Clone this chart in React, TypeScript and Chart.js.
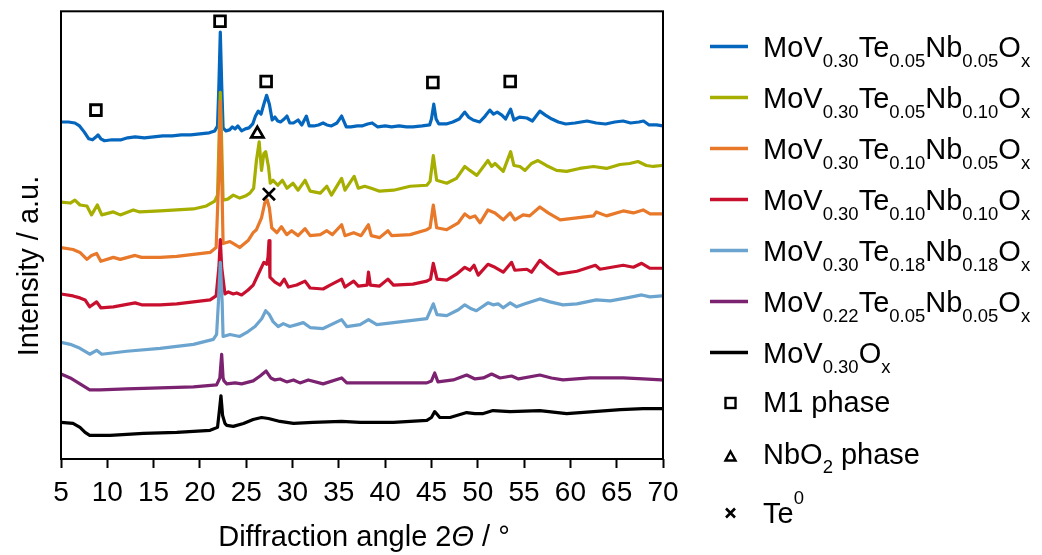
import { useEffect, useRef } from "react";
import { Chart, registerables } from "chart.js";

Chart.register(...registerables);

const FONT = '"Liberation Sans", Arial, Helvetica, sans-serif';

// XRD patterns, pairs of [2θ in °, intensity in a.u. with the stacking offset already applied]
const mvtn_30_05_05: [number, number][] = [
  [5, 341], [5.8, 341], [6.5, 340], [7.0, 337], [7.5, 331], [8.0, 324], [8.4, 323], [8.8, 326], [9.0, 328],
  [9.3, 324], [9.7, 322], [10.5, 323], [11.5, 323], [12.2, 325], [13.0, 326], [14, 325], [15, 326], [16, 327],
  [17, 327], [18, 328], [19, 328], [20, 329], [21, 330], [21.6, 332], [21.9, 337], [22.05, 379], [22.2, 432],
  [22.35, 379], [22.5, 335], [22.8, 332], [23.2, 333], [23.5, 336], [23.8, 334], [24.1, 337], [24.5, 332],
  [24.9, 334], [25.3, 335], [25.7, 339], [26.0, 347], [26.3, 352], [26.6, 349], [26.9, 359], [27.2, 368],
  [27.5, 359], [27.8, 343], [28.1, 346], [28.4, 342], [28.7, 341], [29.1, 344], [29.4, 347], [29.7, 340],
  [30.1, 340], [30.6, 343], [31.0, 338], [31.5, 347], [31.8, 337], [32.3, 337], [32.8, 338], [33.3, 340],
  [33.7, 338], [34.2, 337], [34.8, 340], [35.3, 347], [35.8, 336], [36.3, 336], [37.0, 337], [37.5, 337],
  [38.1, 339], [38.6, 340], [39.2, 336], [40.0, 337], [40.7, 336], [41.5, 337], [42.3, 336], [43.0, 336],
  [44.0, 337], [44.8, 338], [45.0, 344], [45.25, 359], [45.5, 344], [45.8, 339], [46.6, 339], [47.3, 341],
  [48.0, 344], [48.6, 351], [49.0, 346], [49.5, 343], [50.2, 341], [50.8, 347], [51.3, 353], [51.7, 349],
  [52.1, 351], [52.6, 348], [53.0, 344], [53.55, 354], [53.9, 343], [54.5, 346], [55.3, 345], [55.9, 342],
  [56.7, 352], [57.3, 348], [58.0, 344], [58.7, 341], [59.5, 339], [60.5, 340], [61.8, 342], [62.8, 340],
  [63.8, 339], [64.8, 341], [65.7, 342], [66.5, 340], [67.4, 341], [67.9, 342], [68.5, 338], [69.3, 338],
  [70, 337],
];

const mvtn_30_05_10: [number, number][] = [
  [5, 260], [6.0, 259], [6.5, 262], [7.05, 257], [7.8, 256], [8.3, 247], [8.92, 257], [9.4, 247], [10.65, 250],
  [11.4, 247], [12.8, 252], [13.5, 250], [15.7, 251], [17.5, 252], [19.3, 253], [20.7, 256], [21.6, 261],
  [21.9, 267], [22.05, 319], [22.2, 371], [22.35, 319], [22.5, 262], [23.0, 263], [23.6, 267], [24.3, 264],
  [24.9, 266], [25.4, 269], [25.8, 274], [26.1, 302], [26.4, 321], [26.65, 292], [26.9, 309], [27.1, 311],
  [27.4, 296], [27.6, 279], [27.9, 282], [28.4, 277], [28.9, 282], [29.4, 274], [30.05, 279], [30.6, 272],
  [31.35, 282], [31.9, 271], [33.0, 269], [33.7, 276], [34.2, 267], [35.3, 284], [35.66, 272], [36.65, 286],
  [37.1, 274], [37.8, 276], [38.5, 274], [39.4, 271], [40.9, 272], [42.7, 276], [44.5, 277], [44.85, 281],
  [45.2, 307], [45.56, 282], [46.65, 279], [47.7, 284], [48.6, 296], [49.15, 292], [49.9, 287], [51.1, 302],
  [51.5, 296], [51.86, 299], [52.2, 296], [52.75, 291], [53.55, 311], [53.9, 297], [54.55, 296], [55.1, 292],
  [55.8, 299], [56.5, 302], [57.4, 297], [58.5, 292], [59.6, 291], [61.0, 294], [62.5, 296], [63.9, 294],
  [65.35, 298], [66.4, 299], [67.3, 301], [68.2, 297], [68.95, 296], [69.85, 297], [70, 297],
];

const mvtn_30_10_05: [number, number][] = [
  [5, 214], [6.3, 212], [7.05, 209], [7.8, 202], [8.3, 206], [8.85, 208], [9.3, 200], [10.65, 204], [11.4, 202],
  [13.0, 206], [13.7, 204], [15.7, 204], [17.5, 205], [19.3, 207], [21.1, 209], [21.75, 214], [22.05, 289],
  [22.2, 362], [22.35, 289], [22.5, 218], [23.25, 220], [23.8, 217], [24.3, 214], [25.2, 221], [25.75, 229],
  [26.1, 232], [26.65, 244], [27.0, 259], [27.27, 262], [27.5, 254], [27.75, 234], [28.3, 229], [28.8, 235],
  [29.37, 227], [29.9, 231], [30.6, 226], [31.35, 233], [31.9, 226], [33.0, 227], [33.7, 231], [34.3, 227],
  [35.3, 237], [35.66, 226], [36.6, 229], [37.4, 226], [38.2, 237], [38.5, 226], [39.4, 224], [40.3, 231],
  [40.7, 226], [42.7, 227], [44.5, 232], [44.85, 234], [45.2, 257], [45.56, 234], [46.65, 232], [47.9, 239],
  [48.6, 248], [49.15, 244], [49.7, 246], [50.24, 239], [51.1, 252], [51.86, 249], [52.75, 242], [53.5, 249],
  [54.0, 242], [54.9, 247], [55.6, 246], [56.7, 255], [57.6, 249], [58.9, 242], [60.7, 244], [62.5, 246],
  [62.8, 250], [63.9, 246], [65.7, 251], [66.8, 249], [67.85, 252], [68.6, 248], [69.85, 248], [70, 248],
];

const mvtn_30_10_10: [number, number][] = [
  [5, 167], [6.3, 165], [7.05, 163], [7.6, 161], [8.1, 154], [8.85, 159], [9.3, 153], [10.65, 154], [13.0, 158],
  [13.7, 156], [15.7, 156], [17.5, 157], [19.3, 159], [21.1, 161], [21.75, 165], [22.05, 194], [22.2, 222],
  [22.35, 194], [22.7, 167], [23.07, 169], [23.6, 167], [23.97, 168], [24.5, 166], [25.2, 171], [25.75, 176],
  [26.4, 189], [26.9, 199], [27.2, 197], [27.35, 204], [27.46, 221], [27.56, 184], [28.1, 179], [28.65, 176],
  [29.1, 182], [29.55, 174], [30.45, 176], [31.35, 180], [31.9, 173], [33.3, 172], [34.05, 176], [35.3, 182],
  [35.66, 174], [36.6, 180], [37.1, 175], [38.05, 176], [38.2, 189], [38.4, 176], [39.4, 175], [40.3, 182],
  [40.9, 176], [43.0, 177], [44.5, 180], [44.9, 182], [45.2, 198], [45.6, 182], [46.65, 181], [47.7, 187],
  [48.6, 194], [49.15, 191], [49.6, 196], [50.05, 186], [51.1, 197], [51.86, 194], [52.75, 189], [53.65, 199],
  [54.0, 191], [55.3, 192], [55.8, 189], [56.7, 201], [57.6, 194], [58.7, 187], [60.7, 190], [62.7, 196],
  [63.2, 192], [65.7, 196], [66.8, 194], [67.7, 198], [68.6, 193], [69.85, 193], [70, 193],
];

const mvtn_30_18_18: [number, number][] = [
  [5, 118], [6.0, 116], [7.05, 112], [8.1, 106], [8.85, 110], [9.4, 106], [12.1, 109], [15.7, 112], [19.3, 116],
  [21.45, 121], [21.8, 126], [22.0, 159], [22.2, 199], [22.4, 159], [22.5, 124], [23.25, 126], [24.3, 124],
  [25.2, 129], [25.95, 134], [26.67, 142], [27.1, 150], [27.5, 146], [27.9, 139], [28.45, 134], [29.0, 137],
  [29.7, 134], [30.45, 136], [31.16, 138], [31.9, 133], [33.3, 132], [35.3, 141], [35.85, 134], [37.3, 136],
  [38.2, 141], [39.1, 136], [40.9, 138], [42.7, 140], [44.5, 142], [45.2, 157], [45.6, 146], [46.65, 145],
  [47.9, 151], [48.6, 156], [49.3, 152], [49.85, 150], [51.1, 158], [51.65, 156], [52.2, 157], [52.75, 153],
  [53.5, 158], [54.2, 154], [55.1, 157], [56.7, 162], [57.8, 159], [59.2, 156], [60.7, 157], [62.8, 161],
  [64.3, 160], [66.1, 163], [67.7, 166], [68.6, 164], [69.85, 165], [70, 165],
];

const mvtn_22_05_05: [number, number][] = [
  [5, 86], [6.0, 82], [7.05, 76], [8.1, 70], [9.2, 70], [12.1, 71], [15.7, 72], [19.3, 73], [21.8, 75],
  [22.15, 82], [22.35, 106], [22.5, 82], [22.6, 79], [22.9, 76], [23.8, 77], [24.5, 76], [25.75, 79],
  [26.5, 84], [27.15, 89], [27.65, 82], [28.1, 80], [28.65, 81], [29.37, 78], [30.1, 80], [30.8, 77],
  [31.7, 80], [33.3, 76], [35.3, 82], [35.85, 77], [37.3, 77], [40.9, 77], [44.5, 77], [45.0, 79],
  [45.35, 87], [45.7, 78], [47.35, 80], [48.8, 85], [49.7, 81], [50.6, 82], [51.5, 86], [52.4, 82],
  [53.65, 84], [54.4, 81], [56.7, 85], [57.95, 82], [59.2, 80], [62.1, 82], [65.7, 82], [67.85, 81],
  [69.85, 80], [70, 80],
];

const mv_30: [number, number][] = [
  [5, 37], [6.3, 36], [7.05, 32], [7.6, 27], [8.1, 24], [10.3, 24], [13.9, 26], [17.5, 27], [21.1, 29],
  [21.9, 32], [22.1, 49], [22.27, 64], [22.45, 44], [22.7, 36], [22.9, 34], [23.6, 33], [24.7, 36],
  [25.75, 40], [26.65, 42], [27.4, 41], [28.65, 38], [30.1, 36], [32.2, 37], [35.3, 38], [37.3, 37],
  [40.9, 37], [44.5, 39], [45.0, 42], [45.35, 48], [45.9, 42], [47.0, 42], [48.8, 47], [49.7, 46],
  [50.6, 46], [51.65, 49], [53.5, 48], [56.7, 49], [59.6, 46], [62.5, 48], [65.4, 50], [67.85, 51],
  [69.85, 51], [70, 51],
];

const patterns = [mvtn_30_05_05, mvtn_30_05_10, mvtn_30_10_05, mvtn_30_10_10, mvtn_30_18_18, mvtn_22_05_05, mv_30];

// _{..} is a subscript, ^{..} a superscript
const sampleNames = [
  "MoV_{0.30}Te_{0.05}Nb_{0.05}O_{x}",
  "MoV_{0.30}Te_{0.05}Nb_{0.10}O_{x}",
  "MoV_{0.30}Te_{0.10}Nb_{0.05}O_{x}",
  "MoV_{0.30}Te_{0.10}Nb_{0.10}O_{x}",
  "MoV_{0.30}Te_{0.18}Nb_{0.18}O_{x}",
  "MoV_{0.22}Te_{0.05}Nb_{0.05}O_{x}",
  "MoV_{0.30}O_{x}",
];

const sampleColors = ["#0566BE", "#A6AE00", "#E8782A", "#C8102E", "#6BA4CE", "#7B2270", "#000000"];

// reflections marked above the patterns: [2θ, height]
const m1Marks: [number, number][] = [[8.77, 353], [22.17, 443], [27.15, 382], [45.15, 381], [53.5, 382]];
const nbo2Marks: [number, number][] = [[26.2, 329]];
const te0Marks: [number, number][] = [[27.45, 268]];

const phaseNames = ["M1 phase", "NbO_{2} phase", "Te^{0}"];

const xTicks = [5, 10, 15, 20, 25, 30, 35, 40, 45, 50, 55, 60, 65, 70];

type Seg = { t: string; m: "n" | "sub" | "sup" };

function parseRich(s: string): Seg[] {
  const out: Seg[] = [];
  const re = /([_^])\{([^}]*)\}/g;
  let last = 0;
  let m: RegExpExecArray | null;
  while ((m = re.exec(s))) {
    if (m.index > last) out.push({ t: s.slice(last, m.index), m: "n" });
    out.push({ t: m[2], m: m[1] === "_" ? "sub" : "sup" });
    last = re.lastIndex;
  }
  if (last < s.length) out.push({ t: s.slice(last), m: "n" });
  return out;
}

function plainText(s: string) {
  return parseRich(s).map((p) => p.t).join("");
}

function drawRich(ctx: CanvasRenderingContext2D, s: string, x: number, baseline: number, size: number, small: number, subDrop: number) {
  let cx = x;
  for (const seg of parseRich(s)) {
    ctx.font = `${seg.m === "n" ? size : small}px ${FONT}`;
    const y = seg.m === "sub" ? baseline + subDrop : seg.m === "sup" ? baseline - 19 : baseline;
    ctx.fillText(seg.t, cx, y);
    cx += ctx.measureText(seg.t).width;
  }
}

const decorPlugin = {
  id: "xrdDecor",
  afterDraw(chart: Chart) {
    const ctx = chart.ctx;
    const a = chart.chartArea;
    ctx.save();
    // plot frame
    ctx.strokeStyle = "#000";
    ctx.lineWidth = 2;
    ctx.strokeRect(a.left, a.top, a.right - a.left, a.bottom - a.top);

    ctx.fillStyle = "#000";
    ctx.textBaseline = "alphabetic";

    // x axis title with italic theta
    const parts: [string, string][] = [
      ["Diffraction angle 2", `29px ${FONT}`],
      ["Θ", `italic 29px ${FONT}`],
      [" / °", `29px ${FONT}`],
    ];
    let total = 0;
    for (const [t, f] of parts) {
      ctx.font = f;
      total += ctx.measureText(t).width;
    }
    let x = (a.left + a.right) / 2 + 2 - total / 2;
    for (const [t, f] of parts) {
      ctx.font = f;
      ctx.fillText(t, x, 546);
      x += ctx.measureText(t).width;
    }

    // y axis title
    ctx.save();
    ctx.translate(38, 266);
    ctx.rotate(-Math.PI / 2);
    ctx.font = `29px ${FONT}`;
    ctx.textAlign = "center";
    ctx.fillText("Intensity / a.u.", 0, 0);
    ctx.restore();

    // legend: sample lines
    const lineRows = [46.5, 97.5, 148.5, 199.5, 250.5, 301.5, 352.5];
    sampleNames.forEach((name, i) => {
      const y = lineRows[i];
      ctx.strokeStyle = sampleColors[i];
      ctx.lineWidth = 3.6;
      ctx.beginPath();
      ctx.moveTo(710, y);
      ctx.lineTo(748, y);
      ctx.stroke();
      ctx.fillStyle = "#000";
      drawRich(ctx, name, 763, y + 10, 29, 18.5, 10);
    });

    // legend: phase markers
    ctx.strokeStyle = "#000";
    ctx.lineWidth = 2.4;
    ctx.lineJoin = "miter";
    ctx.fillStyle = "#fff";
    ctx.fillRect(725.5, 398, 10, 10);
    ctx.strokeRect(725.5, 398, 10, 10);
    ctx.beginPath();
    ctx.moveTo(730.5, 451.5);
    ctx.lineTo(735.5, 460.5);
    ctx.lineTo(725.5, 460.5);
    ctx.closePath();
    ctx.fill();
    ctx.stroke();
    ctx.lineWidth = 2.6;
    ctx.beginPath();
    ctx.moveTo(726, 508.5);
    ctx.lineTo(735, 517.5);
    ctx.moveTo(735, 508.5);
    ctx.lineTo(726, 517.5);
    ctx.stroke();

    ctx.fillStyle = "#000";
    const phaseBase = [412, 464, 523];
    phaseNames.forEach((n, i) => drawRich(ctx, n, 763, phaseBase[i], 29, 18.5, 8.5));
    ctx.restore();
  },
};

export default function App() {
  const ref = useRef<HTMLCanvasElement | null>(null);

  useEffect(() => {
    if (!ref.current) return;
    const lineSets = patterns.map((p, i) => ({
      type: "line" as const,
      label: plainText(sampleNames[i]),
      data: p.map(([x, y]) => ({ x, y })),
      borderColor: sampleColors[i],
      backgroundColor: sampleColors[i],
      borderWidth: 3.2,
      pointRadius: 0,
      tension: 0,
      borderJoinStyle: "round" as const,
      borderCapStyle: "round" as const,
      order: 20 - i,
    }));
    const markSet = (label: string, pts: [number, number][], style: string, r: number) => ({
      type: "line" as const,
      label,
      data: pts.map(([x, y]) => ({ x, y })),
      showLine: false,
      pointStyle: style,
      pointRadius: r,
      pointBorderWidth: 2.8,
      pointBorderColor: "#000",
      pointBackgroundColor: "#fff",
      order: 0,
    });
    const chart = new Chart(ref.current, {
      type: "line",
      data: {
        datasets: [
          ...lineSets,
          markSet(plainText(phaseNames[0]), m1Marks, "rect", 7.6),
          markSet(plainText(phaseNames[1]), nbo2Marks, "triangle", 7),
          markSet(plainText(phaseNames[2]), te0Marks, "crossRot", 8.5),
        ] as any,
      },
      options: {
        animation: false,
        responsive: false,
        devicePixelRatio: 1,
        layout: { padding: { left: 61, right: 379, top: 6, bottom: 0 } },
        plugins: { legend: { display: false }, tooltip: { enabled: false } },
        scales: {
          x: {
            type: "linear",
            min: 5,
            max: 70,
            afterFit: (s: any) => {
              s.height = 96;
            },
            afterBuildTicks: (s: any) => {
              s.ticks = xTicks.map((v) => ({ value: v }));
            },
            ticks: {
              color: "#000",
              font: { family: FONT, size: 28 },
              padding: 8,
              maxRotation: 0,
              autoSkip: false,
            },
            grid: {
              display: true,
              drawOnChartArea: false,
              drawTicks: true,
              tickLength: 9,
              tickWidth: 2,
              tickColor: "#000",
              color: "#000",
            },
            border: { display: false },
          },
          y: {
            type: "linear",
            display: false,
            min: 0,
            max: 453,
          },
        },
      },
      plugins: [decorPlugin],
    });
    return () => chart.destroy();
  }, []);

  return (
    <div style={{ position: "fixed", left: 0, top: 0, width: 1042, height: 555, background: "#fff" }}>
      <canvas ref={ref} width={1042} height={555} />
    </div>
  );
}
